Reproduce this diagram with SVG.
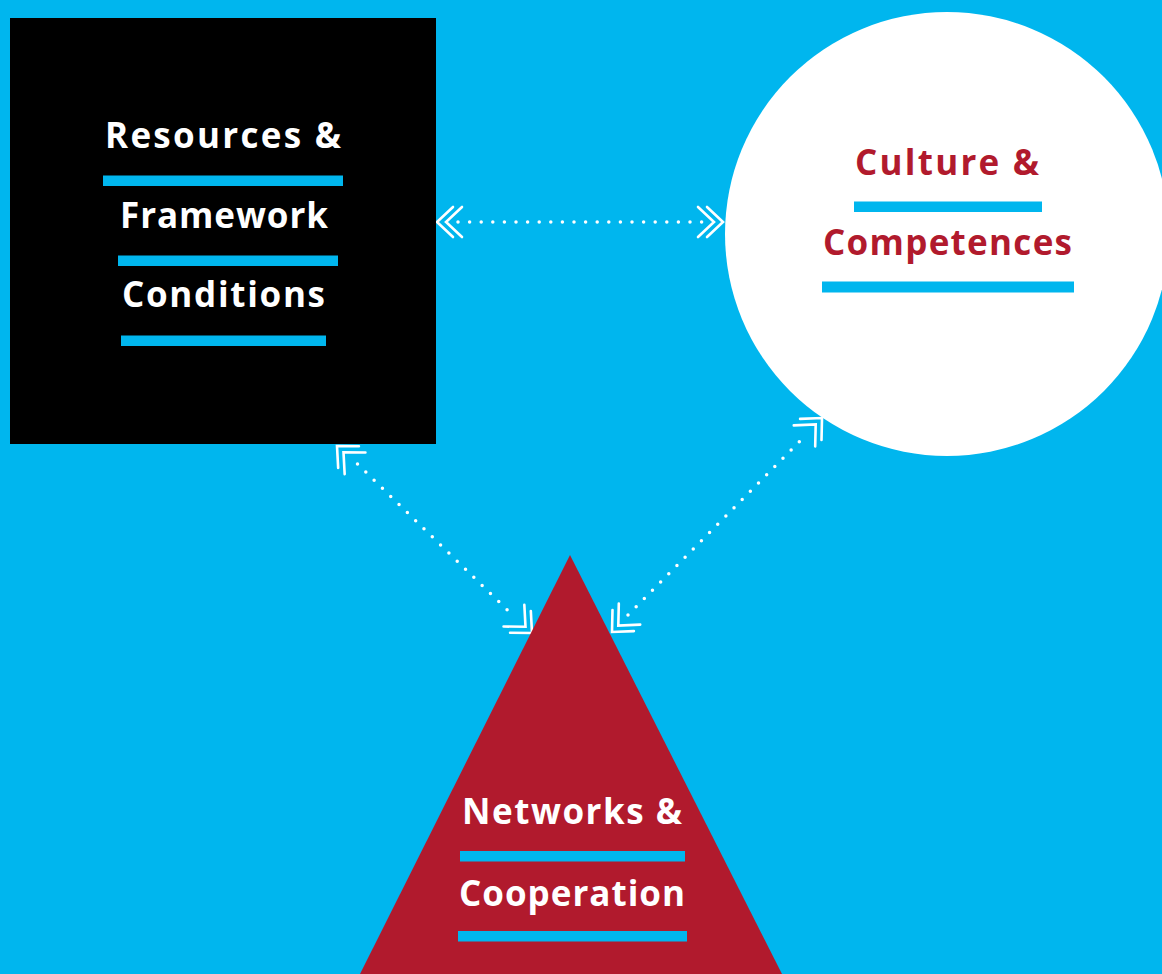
<svg xmlns="http://www.w3.org/2000/svg" width="1162" height="974" viewBox="0 0 1162 974">
<style>
.lbl{font-family:"Open Sans","Liberation Sans",sans-serif;font-weight:700;font-size:35px;text-anchor:middle}
.w{fill:#ffffff}
.r{fill:#b11a2d}
.bar{fill:#00b6ee}
.dots{fill:none;stroke:#ffffff;stroke-width:3.5;stroke-linecap:round;stroke-dasharray:0 11.6}
.ends{fill:none;stroke:none}
</style>
<defs>
<marker id="chev" markerUnits="userSpaceOnUse" markerWidth="60" markerHeight="60" viewBox="-30 -30 60 60" refX="0" refY="0" orient="auto-start-reverse" overflow="visible">
<path d="M-16,-15 L0,0 L-16,15 M-25,-15 L-9,0 L-25,15" fill="none" stroke="#ffffff" stroke-width="2.6" stroke-linecap="round" stroke-linejoin="miter"/>
</marker>
</defs>
<rect x="0" y="0" width="1162" height="974" fill="#00b6ee"/>
<g id="connectors">
<g id="c-resources-culture">
<path class="dots" d="M458,222 L706,222"/>
<path class="ends" d="M437,222 L723,222" marker-start="url(#chev)" marker-end="url(#chev)"/>
</g>
<g id="c-resources-networks">
<path class="dots" d="M357.5,464 L512.5,615"/>
<path class="ends" d="M337,446 L532,633" marker-start="url(#chev)" marker-end="url(#chev)"/>
</g>
<g id="c-culture-networks">
<path class="dots" d="M628,615 L806,435"/>
<path class="ends" d="M612,632 L822,418" marker-start="url(#chev)" marker-end="url(#chev)"/>
</g>
</g>
<g id="resources">
<rect x="10" y="18" width="426" height="426" fill="#000000"/>
<text class="lbl w" x="223" y="148" textLength="236">Resources &amp;</text>
<rect class="bar" x="103" y="175.5" width="240" height="10.5"/>
<text class="lbl w" x="224" y="228" textLength="208">Framework</text>
<rect class="bar" x="118" y="255.5" width="220" height="10.5"/>
<text class="lbl w" x="223.5" y="307" textLength="203">Conditions</text>
<rect class="bar" x="121" y="335.5" width="205" height="10.5"/>
</g>
<g id="culture">
<circle cx="947" cy="234" r="222" fill="#ffffff"/>
<text class="lbl r" x="947" y="175" textLength="184">Culture &amp;</text>
<rect class="bar" x="854" y="201.5" width="188" height="10.5"/>
<text class="lbl r" x="947.5" y="255" textLength="249">Competences</text>
<rect class="bar" x="822" y="281.5" width="252" height="11"/>
</g>
<g id="networks">
<polygon points="570,555 782,974 360,974" fill="#b11a2d"/>
<text class="lbl w" x="572" y="824" textLength="220">Networks &amp;</text>
<rect class="bar" x="460" y="851" width="225" height="10.5"/>
<text class="lbl w" x="572" y="906" textLength="226">Cooperation</text>
<rect class="bar" x="458" y="931" width="229" height="10.5"/>
</g>
</svg>
